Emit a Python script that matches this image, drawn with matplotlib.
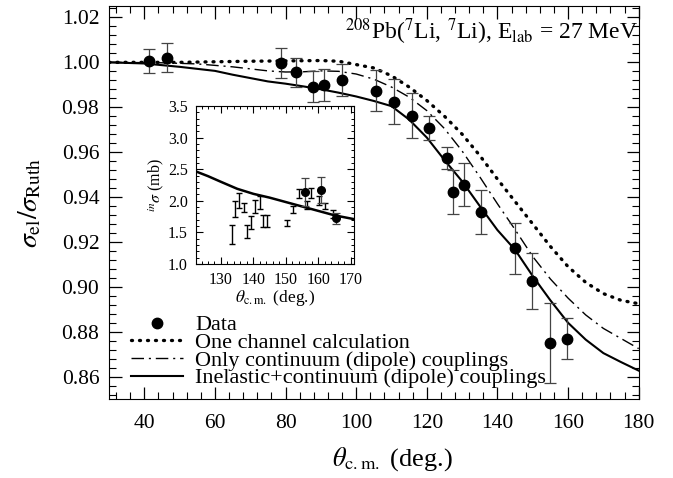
import matplotlib
matplotlib.use("Agg")
import matplotlib.pyplot as plt
from matplotlib.ticker import MultipleLocator
from matplotlib.lines import Line2D

plt.rcParams['font.family'] = ['Liberation Serif', 'DejaVu Serif']
plt.rcParams['mathtext.fontset'] = 'stix'

# elastic data
theta_data = [41.4, 46.3, 78.7, 82.9, 87.8, 90.9, 95.9, 105.6, 110.7, 115.8,
              120.6, 125.6, 127.5, 130.5, 135.3, 145.0, 149.9, 154.8, 159.7]
ratio_data = [1.0005, 1.002, 0.9997, 0.9955, 0.9892, 0.990, 0.9922, 0.9874, 0.9825, 0.9762,
              0.9708, 0.9573, 0.9422, 0.9455, 0.9332, 0.9171, 0.9027, 0.875, 0.877]
ratio_err = [0.0053, 0.0065, 0.0065, 0.0063, 0.007, 0.007, 0.0072, 0.009, 0.01, 0.01,
             0.0055, 0.0048, 0.0098, 0.0095, 0.0098, 0.0115, 0.0125, 0.018, 0.0093]

# one channel calculation
theta_one = [30, 50, 70, 90, 95, 100, 105, 110, 115, 120, 125, 130, 135, 140, 145,
             150, 155, 160, 165, 170, 175, 180]
ratio_one = [1.000, 1.000, 1.0005, 1.0008, 1.0005, 0.999, 0.9975, 0.994, 0.989, 0.983,
             0.976, 0.968, 0.9585, 0.948, 0.938, 0.928, 0.918, 0.909, 0.902, 0.897,
             0.894, 0.8925]

# only continuum couplings
theta_cont = [30, 45, 55, 65, 75, 80, 85, 90, 95, 100, 105, 110, 115, 120, 125, 130,
              135, 140, 145, 150, 155, 160, 165, 170, 175, 180]
ratio_cont = [1.000, 0.9998, 0.9993, 0.998, 0.9962, 0.9957, 0.9958, 0.9962, 0.996, 0.9948,
              0.9925, 0.989, 0.9845, 0.9785, 0.9705, 0.9605, 0.949, 0.937, 0.9255, 0.9135,
              0.9035, 0.895, 0.8875, 0.8815, 0.877, 0.8725]

# inelastic + continuum couplings
theta_full = [30, 40, 50, 60, 65, 70, 75, 80, 85, 90, 95, 100, 105, 110, 115, 120, 125,
              130, 135, 140, 145, 150, 155, 160, 165, 170, 175, 180]
ratio_full = [1.000, 0.9995, 0.998, 0.9962, 0.9945, 0.993, 0.9915, 0.9905, 0.9893, 0.988,
              0.9865, 0.9848, 0.9828, 0.9805, 0.9745, 0.9665, 0.9565, 0.947, 0.936, 0.9253,
              0.9165, 0.9048, 0.894, 0.884, 0.8765, 0.8705, 0.8665, 0.8627]

# inset: inelastic cross section
in_theta_big = [155.8, 160.7, 165.4]
in_sig_big = [2.144, 2.17, 1.72]
in_err_big = [0.22, 0.2, 0.08]

in_theta = [133.4, 134.4, 135.6, 137.1, 138.1, 139.1, 140.6, 142.0, 143.0, 144.2,
            150.2, 152.1, 154.1, 156.4, 157.9, 160.2, 162.0, 164.4]
in_sig = [1.47, 1.87, 2.0, 1.9, 1.51, 1.66, 1.91, 1.97, 1.68, 1.68,
          1.65, 1.86, 2.11, 1.93, 2.13, 2.0, 1.92, 1.79]
in_err = [0.15, 0.12, 0.12, 0.07, 0.1, 0.1, 0.1, 0.1, 0.09, 0.09,
          0.05, 0.05, 0.07, 0.06, 0.08, 0.07, 0.05, 0.065]

in_theta_calc = [122, 126, 130, 135, 140, 145, 150, 155, 160, 165, 171]
in_sig_calc = [2.47, 2.39, 2.30, 2.19, 2.11, 2.05, 1.98, 1.91, 1.84, 1.77, 1.71]

fig = plt.figure(figsize=(6.73, 4.78), dpi=100)
ax = fig.add_axes([0.162, 0.165, 0.787, 0.822])

ax.plot(theta_one, ratio_one, color='black', lw=2.4, ls=(0, (0.3, 2.1)),
        dash_capstyle='round', label='One channel calculation')
ax.plot(theta_cont, ratio_cont, color='black', lw=1.0, ls=(0, (9, 3.5, 1.5, 3.5)),
        label='Only continuum (dipole) couplings')
ax.plot(theta_full, ratio_full, color='black', lw=1.5,
        label='Inelastic+continuum (dipole) couplings')
ax.errorbar(theta_data, ratio_data, yerr=ratio_err, fmt='o', color='black', ms=7.5,
            ecolor='#444444', elinewidth=0.9, capsize=4.5, capthick=0.9)

ax.set_xlim(30, 180)
ax.set_ylim(0.85, 1.025)
ax.xaxis.set_major_locator(MultipleLocator(20))
ax.xaxis.set_minor_locator(MultipleLocator(4))
ax.yaxis.set_major_locator(MultipleLocator(0.02))
ax.yaxis.set_minor_locator(MultipleLocator(0.004))
ax.yaxis.set_major_formatter(plt.FormatStrFormatter('%.2f'))
ax.tick_params(which='both', direction='in', top=True, right=True, labelsize=15.5)
ax.tick_params(which='major', length=9, width=0.9)
ax.tick_params(which='minor', length=5, width=0.8)
ax.tick_params(axis='x', pad=11)
ax.tick_params(axis='y', pad=7)
ax.set_xlabel(r'$\theta_{\rm c.m.}$ (deg.)', fontsize=19)
ax.set_ylabel(r'$\sigma_{\rm el}/\sigma_{\rm Ruth}$', fontsize=20, labelpad=13)
ax.xaxis.set_label_coords(0.535, -0.118)

ax.text(0.999, 0.975, r'$^{208}$Pb($^{7}$Li, $^{7}$Li), E$_{\rm lab}$ = 27 MeV',
        transform=ax.transAxes, ha='right', va='top', fontsize=17)

handles = [Line2D([], [], marker='o', color='black', ls='none', ms=7.5)]
h, l = ax.get_legend_handles_labels()
handles += h
labels = ['Data'] + l
ax.legend(handles, labels, loc='lower left', bbox_to_anchor=(0.012, -0.012),
          frameon=False, fontsize=16, handlelength=2.35, handletextpad=0.55,
          labelspacing=-0.13, borderpad=0.2)

# inset
ins = fig.add_axes([196 / 673, 1 - 264 / 478, 158 / 673, 158 / 478])
ins.plot(in_theta_calc, in_sig_calc, color='black', lw=1.8)
ins.errorbar(in_theta, in_sig, yerr=in_err, fmt='none', ecolor='black',
             elinewidth=1.0, capsize=2, capthick=1.0)
ins.errorbar(in_theta_big, in_sig_big, yerr=in_err_big, fmt='o', color='black', ms=5.5,
             ecolor='#444444', elinewidth=0.9, capsize=3, capthick=0.9)
ins.set_xlim(122.3, 171)
ins.set_ylim(1.0, 3.5)
ins.xaxis.set_major_locator(MultipleLocator(10))
ins.xaxis.set_minor_locator(MultipleLocator(2))
ins.yaxis.set_major_locator(MultipleLocator(0.5))
ins.yaxis.set_minor_locator(MultipleLocator(0.1))
ins.tick_params(which='both', direction='in', top=True, right=True, labelsize=11.5)
ins.tick_params(which='major', length=5, width=0.8)
ins.tick_params(which='minor', length=2.5, width=0.7)
ins.tick_params(axis='x', pad=6)
ins.tick_params(axis='y', pad=6)
ins.set_xlabel(r'$\theta_{\rm c.m.}$ (deg.)', fontsize=12.5, labelpad=0)
ins.set_ylabel(r'$^{in}\sigma$ (mb)', fontsize=11.5, labelpad=1)

fig.savefig('out.png', dpi=100)
